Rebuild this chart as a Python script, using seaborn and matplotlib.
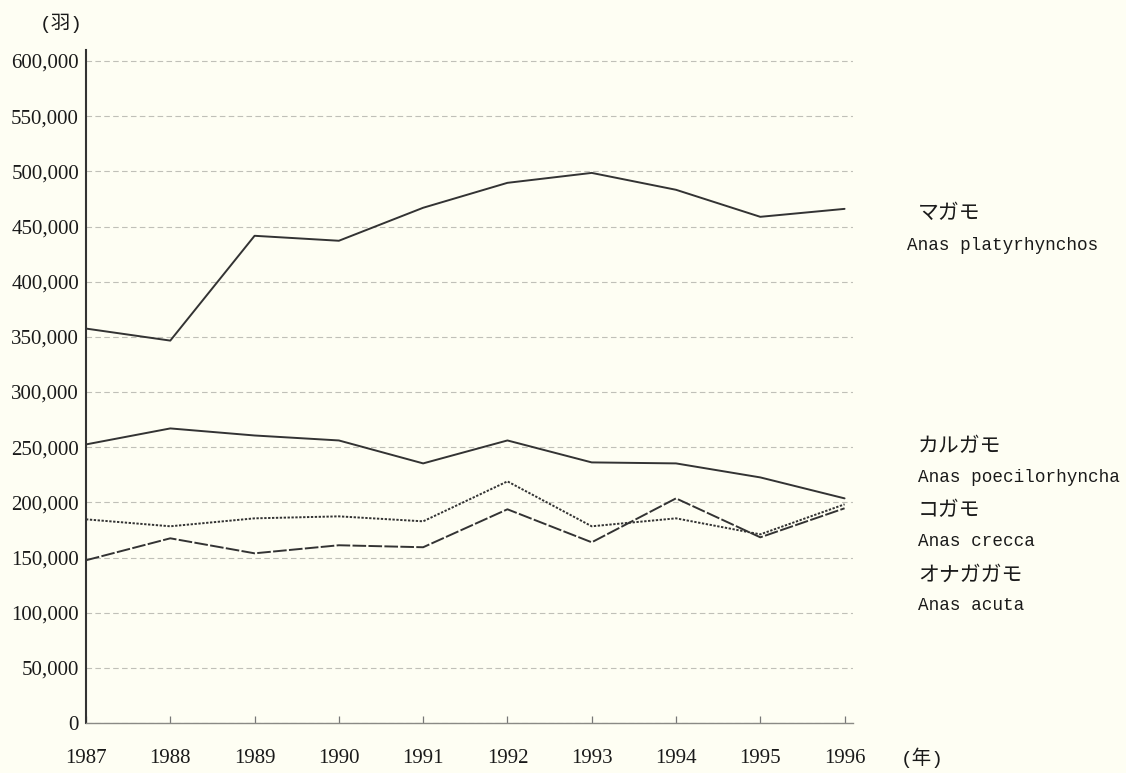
import numpy as np
import pandas as pd
import matplotlib
matplotlib.use("Agg")
import matplotlib.pyplot as plt
import seaborn as sns
from matplotlib.ticker import FuncFormatter

# ---------------------------
# Data
# ---------------------------
years = [1987, 1988, 1989, 1990, 1991, 1992, 1993, 1994, 1995, 1996]

magamo = [357500, 346600, 441600, 437100, 467000, 489600, 498600, 483300, 458800, 466000]
karugamo = [252500, 267000, 260600, 256100, 235300, 256100, 236200, 235300, 222600, 203600]
kogamo = [184600, 178300, 185500, 187300, 182800, 219000, 178300, 185500, 171000, 198200]
onagagamo = [147500, 167400, 153800, 161100, 159300, 193700, 163800, 203600, 168300, 194600]

species = ["マガモ", "カルガモ", "コガモ", "オナガガモ"]
latin = ["Anas platyrhynchos", "Anas poecilorhyncha", "Anas crecca", "Anas acuta"]

y_ticks = list(range(0, 600001, 50000))

# ---------------------------
# Styles
# ---------------------------
BG = "#fefef3"
INK = "#333333"
TXT = "#1a1a1a"
SERIF = ["Liberation Serif", "Noto Sans CJK JP", "DejaVu Sans"]
MONO = ["Liberation Mono", "Noto Sans CJK JP", "DejaVu Sans"]
JP = ["Noto Sans CJK JP", "DejaVu Sans"]
W, H = 1126, 773

sns.set_theme(style="white")
plt.rcParams["font.family"] = SERIF


def px(x, y):
    """pixel position -> figure fraction"""
    return x / W, 1 - y / H


df = pd.DataFrame({
    "year": years * 4,
    "count": magamo + karugamo + kogamo + onagagamo,
    "species": np.repeat(species, len(years)),
})

fig = plt.figure(figsize=(W / 100, H / 100), dpi=100, facecolor=BG)
ax = fig.add_axes([86 / W, 50 / H, (853 - 86) / W, (723 - 50) / H])
ax.set_facecolor(BG)

sns.lineplot(
    data=df, x="year", y="count", hue="species", style="species",
    palette={s: INK for s in species},
    dashes={"マガモ": "", "カルガモ": "", "コガモ": (1.2, 0.8), "オナガガモ": (7, 1.2)},
    linewidth=1.4, legend=False, ax=ax,
)

ax.set_xlim(1987, 1996.1)
ax.set_ylim(0, 610000)
ax.set_xticks(years)
ax.set_yticks(y_ticks)
ax.yaxis.set_major_formatter(FuncFormatter(lambda v, p: f"{int(v):,}"))
ax.grid(axis="y", color="#c0c0b8", linestyle=(0, (5, 3)), linewidth=0.8)
ax.set_xlabel("")
ax.set_ylabel("")

for side in ["top", "right"]:
    ax.spines[side].set_visible(False)
ax.spines["left"].set_color(INK)
ax.spines["left"].set_linewidth(1.5)
ax.spines["bottom"].set_color("#8a8a85")
ax.spines["bottom"].set_linewidth(1.0)

ax.tick_params(axis="y", length=0, pad=5, labelsize=15, colors=TXT)
ax.tick_params(axis="x", direction="in", length=5, width=0.9, color="#777777",
               pad=19, labelsize=15, labelcolor=TXT, bottom=True)

# unit labels
fig.text(*px(40, 23), "(羽)", fontsize=14, va="center", ha="left", color=TXT, family=MONO)
fig.text(*px(901, 758), "(年)", fontsize=14, va="center", ha="left", color=TXT, family=MONO)

# species labels on the right
label_pos = [
    (918, 213, species[0], JP, 15), (907, 246, latin[0], MONO, 12.7),
    (918, 446, species[1], JP, 15), (918, 478, latin[1], MONO, 12.7),
    (918, 510, species[2], JP, 15), (918, 542, latin[2], MONO, 12.7),
    (918, 575, species[3], JP, 15), (918, 606, latin[3], MONO, 12.7),
]
for x, y, t, fam, size in label_pos:
    fig.text(*px(x, y), t, fontsize=size, va="center", ha="left", color=TXT, family=fam)

fig.savefig("out.png", dpi=100, facecolor=BG)
